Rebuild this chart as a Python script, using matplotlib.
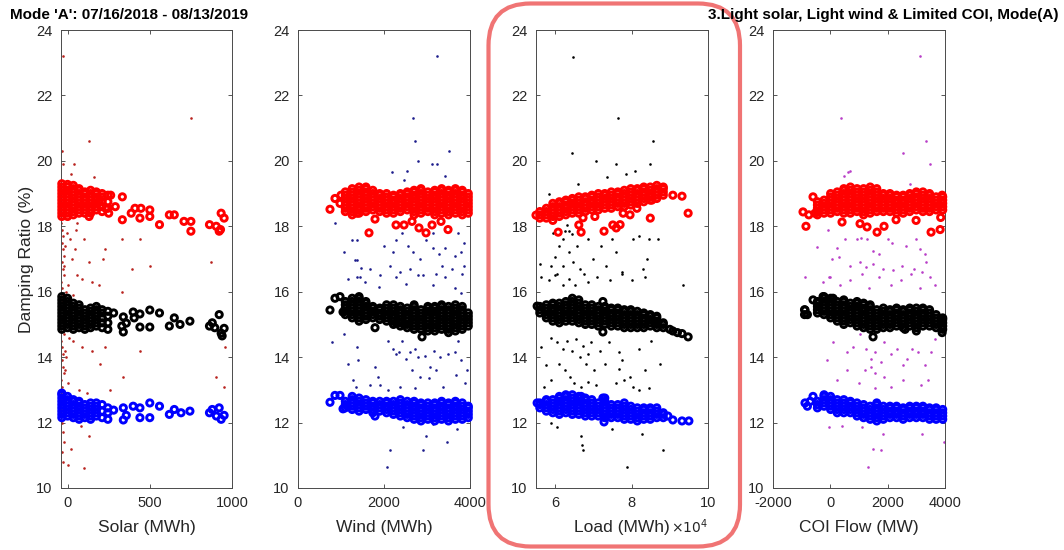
import matplotlib
matplotlib.use("Agg")
import matplotlib.pyplot as plt
from matplotlib.patches import FancyBboxPatch
from matplotlib.ticker import FuncFormatter

plt.rcParams['font.family'] = ['Liberation Sans', 'DejaVu Sans']
plt.rcParams['axes.unicode_minus'] = False

# ---------------- Data ----------------
title_left = "Mode 'A': 07/16/2018 - 08/13/2019"
title_right = "3.Light solar, Light wind & Limited COI, Mode(A)"
xlabels = ["Solar (MWh)", "Wind (MWh)", "Load (MWh)", "COI Flow (MW)"]
ylabel = "Damping Ratio (%)"
yticks = [10, 12, 14, 16, 18, 20, 22, 24]

# ---- Panel 1: Solar ----
solar_red_cols = [
    (-35, [18.3, 18.4, 18.5, 18.6, 18.7, 18.8, 18.9, 19.0, 19.1, 19.2, 19.3]),
    (0, [18.3, 18.4, 18.5, 18.6, 18.7, 18.8, 18.9, 19.0, 19.1, 19.2, 19.28]),
    (35, [18.35, 18.45, 18.55, 18.65, 18.75, 18.85, 18.95, 19.05, 19.15, 19.25]),
    (70, [18.4, 18.5, 18.6, 18.7, 18.8, 18.9, 19.0, 19.1, 19.15]),
    (105, [18.4, 18.5, 18.6, 18.7, 18.8, 18.9, 19.0, 19.05]),
    (140, [18.4, 18.5, 18.6, 18.7, 18.8, 18.9, 19.0, 19.1]),
    (175, [18.5, 18.6, 18.7, 18.8, 18.9, 19.0, 19.05]),
    (210, [18.45, 18.6, 18.75, 18.9, 19.0]),
    (245, [18.55, 18.75, 18.95])]
solar_red_extra = [(131, 18.3), (262, 18.95), (333, 18.2), (333, 18.9), (387, 18.4), (410, 18.55), (446, 18.55),
                   (440, 18.25), (500, 18.5), (500, 18.3), (559, 18.05), (619, 18.35), (649, 18.35), (708, 18.15),
                   (750, 18.15), (750, 17.85), (863, 18.05), (904, 18.0), (922, 17.85), (930, 17.9), (934, 18.4),
                   (952, 18.25), (190, 18.75), (232, 18.55), (250, 18.4), (290, 18.6)]
solar_blk_cols = [
    (-35, [14.85, 14.95, 15.05, 15.15, 15.25, 15.35, 15.45, 15.55, 15.65, 15.75, 15.85]),
    (0, [14.9, 15.0, 15.1, 15.2, 15.3, 15.4, 15.5, 15.6, 15.7, 15.8]),
    (35, [14.85, 14.95, 15.05, 15.15, 15.25, 15.35, 15.45, 15.55, 15.65]),
    (70, [14.9, 15.0, 15.1, 15.2, 15.3, 15.4, 15.5, 15.6]),
    (105, [14.85, 14.95, 15.05, 15.15, 15.25, 15.35, 15.45]),
    (140, [14.9, 15.0, 15.1, 15.2, 15.3, 15.4, 15.5]),
    (175, [14.95, 15.05, 15.15, 15.25, 15.35, 15.45, 15.55]),
    (210, [14.9, 15.05, 15.2, 15.35, 15.45]),
    (245, [14.85, 15.05, 15.25, 15.4])]
solar_blk_extra = [(280, 15.35), (339, 15.23), (339, 14.77), (357, 15.04), (399, 15.38), (405, 15.2), (440, 15.32),
                   (440, 14.92), (500, 15.44), (500, 14.92), (559, 15.35), (619, 14.95), (649, 15.2), (684, 15.0),
                   (744, 15.1), (863, 14.95), (880, 15.05), (922, 15.3), (934, 14.73), (952, 14.88), (940, 14.65),
                   (895, 14.9), (330, 14.95)]
solar_blu_cols = [
    (-35, [12.15, 12.25, 12.35, 12.45, 12.55, 12.65, 12.75, 12.85, 12.9]),
    (0, [12.2, 12.3, 12.4, 12.5, 12.6, 12.7, 12.8]),
    (35, [12.15, 12.25, 12.35, 12.45, 12.55, 12.65, 12.7]),
    (70, [12.1, 12.2, 12.3, 12.4, 12.5, 12.6, 12.65]),
    (105, [12.15, 12.25, 12.35, 12.45, 12.55]),
    (140, [12.1, 12.2, 12.3, 12.4, 12.5, 12.6]),
    (175, [12.2, 12.3, 12.4, 12.5, 12.6]),
    (210, [12.15, 12.35, 12.55]),
    (245, [12.1, 12.3, 12.45])]
solar_blu_extra = [(280, 12.38), (339, 12.45), (339, 12.08), (357, 12.22), (399, 12.5), (440, 12.45), (440, 12.15),
                   (500, 12.15), (500, 12.6), (559, 12.5), (619, 12.25), (649, 12.4), (690, 12.3), (744, 12.35),
                   (863, 12.3), (880, 12.4), (922, 12.45), (934, 12.1), (952, 12.22), (905, 12.2)]
solar_dots = [(-30, 23.2), (131, 20.6), (750, 21.3), (-35, 20.3), (-25, 19.9), (40, 19.9), (20, 19.6), (160, 19.5),
              (-30, 19.2), (-38, 18.1), (-32, 17.9), (-26, 17.7), (-35, 17.5), (-29, 17.3), (-22, 17.1), (-36, 16.9),
              (-30, 16.7), (-24, 16.5), (-37, 16.3), (-31, 16.1), (-25, 15.9), (-34, 15.7), (-28, 15.5), (-20, 15.3),
              (-36, 15.1), (-30, 14.9), (-24, 14.7), (-38, 14.5), (-32, 14.3), (-26, 14.1), (-35, 13.9), (-29, 13.7),
              (-22, 13.5), (-37, 13.3), (-31, 13.1), (-25, 12.9), (-34, 12.7), (-28, 12.4), (-36, 12.0), (-30, 11.7),
              (-24, 11.4), (-33, 11.1), (-27, 10.8), (-20, 16.8), (-18, 14.2), (-15, 13.6), (-17, 17.4), (-12, 15.0),
              (-14, 12.2), (-5, 17.8), (5, 16.2), (10, 14.6), (15, 17.6), (0, 13.2), (-10, 16.0), (-8, 14.0),
              (50, 17.9), (100, 17.6), (45, 17.3), (130, 16.9), (230, 17.3), (330, 17.6), (440, 17.6), (215, 17.0),
              (390, 16.7), (500, 16.8), (870, 16.9), (60, 16.5), (90, 16.4), (150, 16.3), (190, 16.2), (330, 16.0),
              (30, 14.5), (90, 14.3), (150, 14.2), (230, 14.3), (440, 14.2), (340, 13.4), (200, 13.8), (900, 13.4),
              (950, 13.1), (960, 14.3), (80, 11.9), (130, 11.6), (20, 11.2), (0, 10.7), (100, 10.6), (70, 13.0),
              (120, 12.9), (260, 13.0), (25, 17.0), (35, 15.9), (60, 18.1)]

# ---- Panel 2: Wind ----
wind_red_cols = [
    (1100, [18.45, 18.55, 18.65, 18.75, 18.85, 18.95, 19.05]),
    (1260, [18.35, 18.45, 18.55, 18.65, 18.75, 18.85, 18.95, 19.05, 19.15]),
    (1420, [18.4, 18.5, 18.6, 18.7, 18.8, 18.9, 19.0, 19.1, 19.2]),
    (1580, [18.45, 18.55, 18.65, 18.75, 18.85, 18.95, 19.05, 19.15, 19.2]),
    (1740, [18.5, 18.6, 18.7, 18.8, 18.9, 19.0, 19.1]),
    (1900, [18.45, 18.55, 18.65, 18.75, 18.85, 18.95, 19.0]),
    (2060, [18.4, 18.5, 18.6, 18.7, 18.8, 18.9, 19.0]),
    (2220, [18.4, 18.5, 18.6, 18.7, 18.8, 18.9, 18.95]),
    (2380, [18.45, 18.55, 18.65, 18.75, 18.85, 18.95, 19.0]),
    (2540, [18.5, 18.6, 18.7, 18.8, 18.9, 19.0, 19.05]),
    (2700, [18.35, 18.45, 18.55, 18.65, 18.75, 18.85, 18.95, 19.05, 19.1]),
    (2860, [18.4, 18.5, 18.6, 18.7, 18.8, 18.9, 19.0, 19.1, 19.15]),
    (3020, [18.45, 18.55, 18.65, 18.75, 18.85, 18.95, 19.05]),
    (3180, [18.35, 18.45, 18.55, 18.65, 18.75, 18.85, 18.95, 19.05, 19.1]),
    (3340, [18.4, 18.5, 18.6, 18.7, 18.8, 18.9, 19.0, 19.1, 19.15]),
    (3500, [18.35, 18.45, 18.55, 18.65, 18.75, 18.85, 18.95, 19.05, 19.1]),
    (3660, [18.4, 18.5, 18.6, 18.7, 18.8, 18.9, 19.0, 19.1, 19.15]),
    (3820, [18.35, 18.45, 18.55, 18.65, 18.75, 18.85, 18.95, 19.05, 19.1]),
    (3960, [18.4, 18.5, 18.6, 18.7, 18.8, 18.9, 19.0])]
wind_red_extra = [(744, 18.52), (860, 18.85), (977, 18.7), (1372, 18.4), (1651, 17.8), (1791, 18.22), (2280, 18.04),
                  (2466, 18.04), (2652, 18.15), (2814, 17.95), (2977, 17.8), (3117, 18.04), (3326, 18.15),
                  (3489, 17.9), (1000, 18.95)]
wind_blk_cols = [
    (1100, [15.3, 15.4, 15.5, 15.6, 15.7]),
    (1260, [15.2, 15.3, 15.4, 15.5, 15.6, 15.7, 15.8]),
    (1420, [15.1, 15.2, 15.3, 15.4, 15.5, 15.6, 15.7, 15.8, 15.85]),
    (1580, [15.15, 15.25, 15.35, 15.45, 15.55, 15.65, 15.7]),
    (1740, [15.2, 15.3, 15.4, 15.5, 15.55]),
    (1900, [15.15, 15.25, 15.35, 15.45, 15.5]),
    (2060, [15.1, 15.2, 15.3, 15.4, 15.5, 15.6]),
    (2220, [15.0, 15.1, 15.2, 15.3, 15.4, 15.5, 15.6]),
    (2380, [14.95, 15.05, 15.15, 15.25, 15.35, 15.45, 15.55]),
    (2540, [14.9, 15.0, 15.1, 15.2, 15.3, 15.4, 15.5]),
    (2700, [14.85, 14.95, 15.05, 15.15, 15.25, 15.35, 15.45, 15.55, 15.6]),
    (2860, [14.85, 14.95, 15.05, 15.15, 15.25, 15.35, 15.45]),
    (3020, [14.8, 14.9, 15.0, 15.1, 15.2, 15.3, 15.4, 15.5, 15.55]),
    (3180, [14.8, 14.9, 15.0, 15.1, 15.2, 15.3, 15.4, 15.5, 15.55]),
    (3340, [14.85, 14.95, 15.05, 15.15, 15.25, 15.35, 15.45, 15.55, 15.6]),
    (3500, [14.75, 14.85, 14.95, 15.05, 15.15, 15.25, 15.35, 15.45, 15.55]),
    (3660, [14.8, 14.9, 15.0, 15.1, 15.2, 15.3, 15.4, 15.5, 15.6]),
    (3820, [14.85, 14.95, 15.05, 15.15, 15.25, 15.35, 15.45, 15.55]),
    (3960, [14.95, 15.05, 15.15, 15.25, 15.35])]
wind_blk_extra = [(744, 15.44), (860, 15.8), (977, 15.85), (1047, 15.38), (1791, 14.9), (2884, 14.62),
                  (2280, 15.05), (2466, 15.0)]
wind_blu_cols = [
    (1100, [12.45, 12.55, 12.65]),
    (1260, [12.4, 12.5, 12.6, 12.7, 12.8]),
    (1420, [12.35, 12.45, 12.55, 12.65, 12.75]),
    (1580, [12.4, 12.5, 12.6, 12.7]),
    (1740, [12.3, 12.4, 12.5, 12.6, 12.65]),
    (1900, [12.35, 12.45, 12.55, 12.65]),
    (2060, [12.3, 12.4, 12.5, 12.6, 12.65]),
    (2220, [12.25, 12.35, 12.45, 12.55, 12.65]),
    (2380, [12.2, 12.3, 12.4, 12.5, 12.6, 12.7]),
    (2540, [12.15, 12.25, 12.35, 12.45, 12.55, 12.65]),
    (2700, [12.1, 12.2, 12.3, 12.4, 12.5, 12.6, 12.65]),
    (2860, [12.05, 12.15, 12.25, 12.35, 12.45, 12.55, 12.6]),
    (3020, [12.1, 12.2, 12.3, 12.4, 12.5, 12.6]),
    (3180, [12.05, 12.15, 12.25, 12.35, 12.45, 12.55, 12.6]),
    (3340, [12.1, 12.2, 12.3, 12.4, 12.5, 12.6, 12.65]),
    (3500, [12.05, 12.15, 12.25, 12.35, 12.45, 12.55, 12.6]),
    (3660, [12.1, 12.2, 12.3, 12.4, 12.5, 12.6, 12.65]),
    (3820, [12.1, 12.2, 12.3, 12.4, 12.5, 12.6]),
    (3960, [12.15, 12.25, 12.35, 12.45, 12.5])]
wind_blu_extra = [(744, 12.62), (860, 12.83), (977, 12.83), (1047, 12.42), (1791, 12.2)]
wind_dots = [(3233, 23.2), (2675, 21.3), (2721, 20.6), (2791, 20.0), (3512, 20.3), (2187, 19.65), (2535, 19.7),
             (3117, 19.9), (3233, 19.9), (3420, 19.55), (2466, 19.4), (860, 18.1),
             (1256, 17.58), (1372, 17.58), (1326, 16.97), (1372, 16.97), (1465, 16.73), (2280, 17.58), (2210, 17.2),
             (2560, 17.4), (2675, 17.2), (2830, 17.0), (2977, 17.58), (3140, 17.35), (3280, 17.15), (3420, 17.35),
             (3650, 17.1), (3790, 17.2), (3860, 16.8), (3815, 16.55), (3590, 16.7), (3350, 16.8), (3210, 16.55),
             (2910, 16.5), (2600, 16.7), (2370, 16.6), (2140, 16.8), (1910, 16.5), (1680, 16.7), (1440, 16.45),
             (1163, 16.4), (1070, 17.2), (1990, 17.4), (2420, 17.8), (3140, 17.8), (3720, 17.8), (3860, 17.5),
             (1372, 16.45), (1560, 16.3), (1885, 16.15), (2280, 16.45), (2500, 16.25), (2790, 16.5), (3140, 16.2),
             (3420, 16.45), (3650, 16.1), (3790, 15.95),
             (790, 14.45), (1070, 14.7), (1163, 13.8), (1372, 14.3), (1395, 13.9), (1280, 13.3), (1350, 13.1),
             (1790, 13.7), (1860, 13.4), (1910, 13.15), (2093, 14.5), (2210, 14.25), (2280, 14.1), (2350, 14.15),
             (2420, 14.5), (2500, 13.95), (2610, 14.15), (2650, 13.6), (2720, 14.25), (2790, 14.0), (2840, 13.4),
             (2960, 14.05), (3040, 13.35), (3070, 13.7), (3160, 14.2), (3210, 13.6), (3300, 14.0), (3380, 13.1),
             (3490, 14.1), (3650, 14.15), (3720, 14.5), (3800, 13.9), (3880, 13.2), (3920, 13.6), (3680, 13.45),
             (2720, 13.05), (2380, 13.1), (2090, 13.0), (1680, 13.15),
             (2442, 11.86), (2140, 11.15), (2911, 11.15), (2070, 10.65), (3467, 11.4), (2980, 11.6), (3700, 11.8),
             (3150, 11.95)]

# ---- Panel 3: Load ----
load_red_cols = [
    (5.6e4, [18.25, 18.35, 18.45]),
    (5.77e4, [18.25, 18.35, 18.45, 18.55]),
    (5.94e4, [18.3, 18.4, 18.5, 18.6, 18.7]),
    (6.11e4, [18.3, 18.4, 18.5, 18.6, 18.7, 18.75]),
    (6.28e4, [18.35, 18.45, 18.55, 18.65, 18.75, 18.8]),
    (6.45e4, [18.4, 18.5, 18.6, 18.7, 18.8, 18.85]),
    (6.62e4, [18.4, 18.5, 18.6, 18.7, 18.8, 18.9]),
    (6.79e4, [18.45, 18.55, 18.65, 18.75, 18.85, 18.9]),
    (6.96e4, [18.5, 18.6, 18.7, 18.8, 18.9, 18.95]),
    (7.13e4, [18.5, 18.6, 18.7, 18.8, 18.9, 19.0]),
    (7.30e4, [18.55, 18.65, 18.75, 18.85, 18.95, 19.0]),
    (7.47e4, [18.55, 18.65, 18.75, 18.85, 18.95, 19.05]),
    (7.64e4, [18.6, 18.7, 18.8, 18.9, 19.0, 19.05]),
    (7.81e4, [18.6, 18.7, 18.8, 18.9, 19.0, 19.1]),
    (7.98e4, [18.65, 18.75, 18.85, 18.95, 19.05, 19.15]),
    (8.15e4, [18.7, 18.8, 18.9, 19.0, 19.1, 19.15]),
    (8.32e4, [18.75, 18.85, 18.95, 19.05, 19.15, 19.2]),
    (8.49e4, [18.8, 18.9, 19.0, 19.1, 19.2]),
    (8.66e4, [18.85, 18.95, 19.05, 19.15, 19.25]),
    (8.83e4, [18.95, 19.05, 19.15, 19.2])]
load_red_extra = [(5.5e4, 18.34), (5.94e4, 18.18), (6.08e4, 17.82), (6.62e4, 18.04), (6.68e4, 17.82), (6.73e4, 18.26),
                  (7.04e4, 18.3), (7.28e4, 17.85), (7.51e4, 18.04), (7.6e4, 17.95), (7.7e4, 18.05), (7.78e4, 18.4),
                  (7.96e4, 18.35), (8.14e4, 18.55), (8.49e4, 18.25), (8.53e4, 18.8), (9.08e4, 18.95),
                  (9.32e4, 18.92), (9.48e4, 18.4)]
load_blk_cols = [
    (5.6e4, [15.35, 15.45, 15.55]),
    (5.77e4, [15.2, 15.3, 15.4, 15.5, 15.6]),
    (5.94e4, [15.1, 15.2, 15.3, 15.4, 15.5, 15.6, 15.65]),
    (6.11e4, [15.05, 15.15, 15.25, 15.35, 15.45, 15.55, 15.65]),
    (6.28e4, [15.1, 15.2, 15.3, 15.4, 15.5, 15.6, 15.7]),
    (6.45e4, [15.1, 15.2, 15.3, 15.4, 15.5, 15.6, 15.7, 15.8]),
    (6.62e4, [15.05, 15.15, 15.25, 15.35, 15.45, 15.55, 15.65, 15.75]),
    (6.79e4, [15.0, 15.1, 15.2, 15.3, 15.4, 15.5, 15.6]),
    (6.96e4, [15.0, 15.1, 15.2, 15.3, 15.4, 15.5, 15.6]),
    (7.13e4, [14.95, 15.05, 15.15, 15.25, 15.35, 15.45, 15.55]),
    (7.30e4, [15.0, 15.1, 15.2, 15.3, 15.4, 15.5, 15.55]),
    (7.47e4, [14.95, 15.05, 15.15, 15.25, 15.35, 15.45, 15.5]),
    (7.64e4, [14.95, 15.05, 15.15, 15.25, 15.35, 15.45, 15.5]),
    (7.81e4, [14.9, 15.0, 15.1, 15.2, 15.3, 15.4, 15.45]),
    (7.98e4, [14.9, 15.0, 15.1, 15.2, 15.3, 15.4, 15.45]),
    (8.15e4, [14.9, 15.0, 15.1, 15.2, 15.3, 15.4]),
    (8.32e4, [14.9, 15.0, 15.1, 15.2, 15.3, 15.35]),
    (8.49e4, [14.95, 15.05, 15.15, 15.25, 15.3]),
    (8.66e4, [14.9, 15.0, 15.1, 15.2, 15.25]),
    (8.83e4, [14.9, 15.0, 15.05])]
load_blk_extra = [(5.53e4, 15.56), (7.25e4, 14.77), (7.25e4, 15.7), (9.0e4, 14.85), (9.08e4, 14.8), (9.2e4, 14.75),
                  (9.32e4, 14.72), (9.48e4, 14.62), (8.6e4, 15.05)]
load_blu_cols = [
    (5.6e4, [12.45, 12.55, 12.6]),
    (5.77e4, [12.35, 12.45, 12.55, 12.65, 12.7]),
    (5.94e4, [12.3, 12.4, 12.5, 12.6, 12.7]),
    (6.11e4, [12.25, 12.35, 12.45, 12.55, 12.65, 12.75, 12.8]),
    (6.28e4, [12.3, 12.4, 12.5, 12.6, 12.7, 12.8, 12.85]),
    (6.45e4, [12.25, 12.35, 12.45, 12.55, 12.65, 12.75, 12.85]),
    (6.62e4, [12.25, 12.35, 12.45, 12.55, 12.65, 12.75, 12.8]),
    (6.79e4, [12.2, 12.3, 12.4, 12.5, 12.6, 12.7, 12.75]),
    (6.96e4, [12.2, 12.3, 12.4, 12.5, 12.6, 12.7]),
    (7.13e4, [12.2, 12.3, 12.4, 12.5, 12.6]),
    (7.30e4, [12.15, 12.25, 12.35, 12.45, 12.55, 12.65, 12.75]),
    (7.47e4, [12.15, 12.25, 12.35, 12.45, 12.55]),
    (7.64e4, [12.15, 12.25, 12.35, 12.45, 12.55]),
    (7.81e4, [12.1, 12.2, 12.3, 12.4, 12.5, 12.6]),
    (7.98e4, [12.1, 12.2, 12.3, 12.4, 12.5]),
    (8.15e4, [12.05, 12.15, 12.25, 12.35, 12.45]),
    (8.32e4, [12.1, 12.2, 12.3, 12.4, 12.45]),
    (8.49e4, [12.1, 12.2, 12.3, 12.4, 12.45]),
    (8.66e4, [12.15, 12.25, 12.35, 12.45]),
    (8.83e4, [12.15, 12.25, 12.3])]
load_blu_extra = [(5.53e4, 12.6), (9.08e4, 12.08), (9.32e4, 12.05), (9.5e4, 12.05), (8.95e4, 12.2), (7.28e4, 12.02),
                  (7.25e4, 12.75), (6.68e4, 12.8)]
load_dots = [(6.47e4, 23.18), (7.64e4, 21.3), (8.56e4, 20.6), (6.43e4, 20.25), (7.07e4, 20.0), (7.6e4, 19.9),
             (8.47e4, 19.9), (6.6e4, 19.3), (5.84e4, 18.98), (7.36e4, 19.5), (8.1e4, 19.7), (7.85e4, 19.6),
             (6.31e4, 18.05), (6.26e4, 17.85), (6.36e4, 17.85), (6.45e4, 17.75), (6.2e4, 17.6), (5.95e4, 17.8),
             (6.1e4, 17.4), (5.99e4, 17.05), (6.2e4, 16.8), (6.36e4, 17.2), (6.47e4, 16.9), (5.89e4, 16.8),
             (6.0e4, 16.5), (6.57e4, 17.4), (6.65e4, 16.7), (6.86e4, 17.6), (7.0e4, 17.0), (7.2e4, 17.4),
             (7.33e4, 16.8), (7.5e4, 17.6), (7.6e4, 17.2), (7.76e4, 16.6), (8.05e4, 17.6), (8.2e4, 17.7),
             (8.45e4, 17.6), (8.7e4, 17.6), (8.4e4, 17.0), (8.3e4, 16.7), (5.6e4, 16.85),
             (5.63e4, 16.45), (5.84e4, 16.35), (6.05e4, 16.55), (6.2e4, 16.2), (6.36e4, 16.4), (6.53e4, 16.2),
             (6.75e4, 16.55), (6.85e4, 16.3), (7.1e4, 16.45), (7.43e4, 16.35), (7.76e4, 16.55), (8.0e4, 16.35),
             (8.35e4, 16.45), (9.35e4, 16.2),
             (5.9e4, 14.6), (6.05e4, 14.45), (6.2e4, 14.25), (6.3e4, 14.5), (6.43e4, 14.2), (6.55e4, 14.55),
             (6.64e4, 14.0), (6.72e4, 14.35), (6.8e4, 13.8), (6.86e4, 14.1), (6.95e4, 14.45), (7.03e4, 13.6),
             (7.17e4, 14.2), (6.1e4, 13.8), (6.25e4, 13.6), (6.38e4, 13.4), (6.5e4, 13.2), (5.9e4, 13.3),
             (5.72e4, 13.1), (6.68e4, 13.1), (6.86e4, 13.25), (7.08e4, 13.15), (7.68e4, 14.15), (7.76e4, 13.9),
             (7.66e4, 13.65), (7.95e4, 13.4), (8.03e4, 13.1), (7.8e4, 13.3), (8.2e4, 13.0), (8.45e4, 13.05),
             (7.6e4, 13.2), (8.35e4, 13.6), (8.2e4, 14.25), (8.5e4, 14.5), (8.75e4, 13.8), (7.3e4, 13.8),
             (7.4e4, 14.45), (5.63e4, 14.3), (5.75e4, 13.75),
             (6.05e4, 11.86), (6.69e4, 11.6), (6.7e4, 11.3), (6.72e4, 11.15), (7.88e4, 10.65), (8.82e4, 11.15),
             (8.27e4, 11.65), (7.5e4, 11.8), (5.9e4, 12.0)]

# ---- Panel 4: COI flow ----
coi_red_cols = [
    (-450, [18.35, 18.45, 18.55, 18.65, 18.75]),
    (-220, [18.4, 18.5, 18.6, 18.7, 18.8]),
    (10, [18.4, 18.5, 18.6, 18.7, 18.8, 18.9, 19.0]),
    (240, [18.45, 18.55, 18.65, 18.75, 18.85, 18.95, 19.05]),
    (470, [18.4, 18.5, 18.6, 18.7, 18.8, 18.9, 19.0, 19.1, 19.15]),
    (700, [18.4, 18.5, 18.6, 18.7, 18.8, 18.9, 19.0, 19.1, 19.2]),
    (930, [18.45, 18.55, 18.65, 18.75, 18.85, 18.95, 19.05, 19.15]),
    (1160, [18.35, 18.45, 18.55, 18.65, 18.75, 18.85, 18.95, 19.05, 19.15]),
    (1390, [18.4, 18.5, 18.6, 18.7, 18.8, 18.9, 19.0, 19.1, 19.2]),
    (1620, [18.45, 18.55, 18.65, 18.75, 18.85, 18.95, 19.05, 19.15]),
    (1850, [18.45, 18.55, 18.65, 18.75, 18.85, 18.95, 19.0]),
    (2080, [18.45, 18.55, 18.65, 18.75, 18.85, 18.95, 19.0]),
    (2310, [18.4, 18.5, 18.6, 18.7, 18.8, 18.9, 18.95]),
    (2540, [18.4, 18.5, 18.6, 18.7, 18.8, 18.9, 18.95]),
    (2770, [18.45, 18.55, 18.65, 18.75, 18.85, 18.95, 19.0]),
    (3000, [18.5, 18.6, 18.7, 18.8, 18.9, 19.0, 19.05]),
    (3230, [18.45, 18.55, 18.65, 18.75, 18.85, 18.95, 19.05]),
    (3460, [18.45, 18.55, 18.65, 18.75, 18.85, 18.95, 19.0]),
    (3690, [18.5, 18.6, 18.7, 18.8, 18.9]),
    (3920, [18.5, 18.6, 18.7, 18.8, 18.9])]
coi_red_extra = [(-953, 18.44), (-850, 18.0), (-604, 18.9), (-535, 18.4), (408, 18.13), (1036, 18.08), (1281, 17.98),
                 (1630, 17.82), (1874, 18.0), (2293, 18.2), (2991, 18.18), (3514, 17.82), (3830, 17.9),
                 (3850, 18.27), (3900, 18.95), (-750, 18.35)]
coi_blk_cols = [
    (-900, [15.3, 15.45]),
    (-450, [15.35, 15.45, 15.55, 15.65, 15.7]),
    (-220, [15.3, 15.4, 15.5, 15.6, 15.7, 15.8, 15.85]),
    (10, [15.2, 15.3, 15.4, 15.5, 15.6, 15.7, 15.8]),
    (240, [15.1, 15.2, 15.3, 15.4, 15.5, 15.6, 15.7]),
    (470, [15.0, 15.1, 15.2, 15.3, 15.4, 15.5, 15.6, 15.7, 15.75]),
    (700, [15.05, 15.15, 15.25, 15.35, 15.45, 15.55, 15.65]),
    (930, [14.95, 15.05, 15.15, 15.25, 15.35, 15.45, 15.55, 15.65, 15.7]),
    (1160, [14.9, 15.0, 15.1, 15.2, 15.3, 15.4, 15.5, 15.6, 15.65]),
    (1390, [14.85, 14.95, 15.05, 15.15, 15.25, 15.35, 15.45, 15.55, 15.6]),
    (1620, [14.85, 14.95, 15.05, 15.15, 15.25, 15.35, 15.45]),
    (1850, [14.9, 15.0, 15.1, 15.2, 15.3, 15.4, 15.5]),
    (2080, [14.9, 15.0, 15.1, 15.2, 15.3, 15.4, 15.45]),
    (2310, [14.95, 15.05, 15.15, 15.25, 15.35, 15.45, 15.5]),
    (2540, [14.9, 15.0, 15.1, 15.2, 15.3, 15.4, 15.45]),
    (2770, [14.95, 15.05, 15.15, 15.25, 15.35, 15.45, 15.5]),
    (3000, [14.9, 15.0, 15.1, 15.2, 15.3, 15.4, 15.5]),
    (3230, [14.95, 15.05, 15.15, 15.25, 15.35, 15.45, 15.5]),
    (3460, [14.95, 15.05, 15.15, 15.25, 15.35, 15.45]),
    (3690, [14.9, 15.0, 15.1, 15.2, 15.3]),
    (3920, [14.85, 14.95, 15.05, 15.15, 15.2])]
coi_blk_extra = [(-883, 15.44), (-800, 15.3), (-604, 15.75), (-255, 15.85), (94, 15.8), (1490, 14.62), (2607, 14.85),
                 (3001, 14.8), (3900, 14.75), (3900, 15.1)]
coi_blu_cols = [
    (-450, [12.45, 12.55, 12.65]),
    (-220, [12.5, 12.6, 12.7, 12.8, 12.85]),
    (10, [12.4, 12.5, 12.6, 12.7, 12.8]),
    (240, [12.3, 12.4, 12.5, 12.6, 12.7]),
    (470, [12.3, 12.4, 12.5, 12.6, 12.7]),
    (700, [12.3, 12.4, 12.5, 12.6, 12.65]),
    (930, [12.2, 12.3, 12.4, 12.5, 12.6]),
    (1160, [12.15, 12.25, 12.35, 12.45, 12.55]),
    (1390, [12.1, 12.2, 12.3, 12.4, 12.5]),
    (1620, [12.05, 12.15, 12.25, 12.35, 12.45, 12.55, 12.6]),
    (1850, [12.1, 12.2, 12.3, 12.4, 12.5]),
    (2080, [12.15, 12.25, 12.35, 12.45, 12.5]),
    (2310, [12.15, 12.25, 12.35, 12.45, 12.5]),
    (2540, [12.1, 12.2, 12.3, 12.4, 12.45]),
    (2770, [12.15, 12.25, 12.35, 12.45, 12.5]),
    (3000, [12.15, 12.25, 12.35, 12.45, 12.5]),
    (3230, [12.15, 12.25, 12.35, 12.45, 12.5]),
    (3460, [12.1, 12.2, 12.3, 12.4, 12.45]),
    (3690, [12.1, 12.2, 12.3, 12.4, 12.45]),
    (3920, [12.1, 12.2, 12.3, 12.4])]
coi_blu_extra = [(-883, 12.6), (-800, 12.5), (-604, 12.8), (-700, 12.65)]
coi_dots = [(3130, 23.2), (373, 21.3), (2537, 20.25), (3340, 20.6), (3480, 19.9), (688, 19.7), (478, 19.55),
            (2782, 19.3), (620, 19.65),
            (-465, 17.38), (-80, 17.9), (234, 17.35), (513, 17.6), (932, 17.6), (1072, 17.65), (1281, 17.6),
            (1490, 17.25), (1700, 17.15), (2014, 17.6), (2153, 17.5), (2640, 17.4), (2990, 17.6), (3130, 17.3),
            (3300, 17.15), (67, 17.0), (300, 17.05), (680, 16.8), (1030, 16.9), (1260, 16.75), (1490, 16.85),
            (1840, 16.7), (2200, 16.65), (2500, 16.8), (2920, 16.7), (3200, 16.6), (3340, 16.9), (-890, 16.45),
            (0, 16.45),
            (-240, 16.3), (-50, 16.45), (340, 16.2), (685, 16.35), (1120, 16.55), (1350, 16.1), (1700, 16.45),
            (2130, 16.2), (2480, 16.35), (2800, 16.55), (3130, 16.1), (3480, 16.45), (3650, 16.2),
            (1030, 14.7), (800, 14.3), (570, 14.15), (1260, 14.25), (1420, 13.95), (1560, 14.15), (1770, 13.85),
            (1860, 14.45), (2100, 14.1), (2320, 14.25), (2520, 13.75), (2680, 13.95), (2840, 14.25), (3070, 14.15),
            (3290, 13.75), (3400, 13.3), (3170, 13.15), (2530, 13.3), (1860, 13.4), (1560, 13.5), (1420, 13.7),
            (1210, 13.6), (1000, 13.2), (570, 13.6), (230, 13.3), (110, 14.45), (-110, 13.9), (1560, 13.05),
            (2100, 13.1), (3520, 14.15), (3660, 14.55),
            (-46, 11.86), (1490, 11.2), (1770, 11.15), (1316, 10.65), (1840, 11.65), (3200, 11.65), (3950, 11.4),
            (1100, 11.85), (400, 11.9)]

panels = [
    dict(cols=[solar_red_cols, solar_blk_cols, solar_blu_cols],
         extra=[solar_red_extra, solar_blk_extra, solar_blu_extra],
         dots=solar_dots, dot_color='#b8231e', xlim=(-40, 1000), xticks=[0, 500, 1000]),
    dict(cols=[wind_red_cols, wind_blk_cols, wind_blu_cols],
         extra=[wind_red_extra, wind_blk_extra, wind_blu_extra],
         dots=wind_dots, dot_color='#1c1c8c', xlim=(0, 4000), xticks=[0, 2000, 4000]),
    dict(cols=[load_red_cols, load_blk_cols, load_blu_cols],
         extra=[load_red_extra, load_blk_extra, load_blu_extra],
         dots=load_dots, dot_color='#000000', xlim=(5.5e4, 1.0e5), xticks=[6e4, 8e4, 1e5]),
    dict(cols=[coi_red_cols, coi_blk_cols, coi_blu_cols],
         extra=[coi_red_extra, coi_blk_extra, coi_blu_extra],
         dots=coi_dots, dot_color='#b83ec8', xlim=(-2000, 4000), xticks=[-2000, 0, 2000, 4000]),
]
band_colors = ['#ff0000', '#000000', '#0000ff']

# ---------------- Figure ----------------
W, H = 1064, 550
fig = plt.figure(figsize=(W / 100, H / 100), dpi=100)
lefts_px = [61, 298, 536, 773]
widths_px = [171, 172, 172, 172]
top_px, bot_px = 30, 488


def flat(cols, extra):
    xs, ys = [], []
    for x, yl in cols:
        for y in yl:
            xs.append(x)
            ys.append(y)
    for x, y in extra:
        xs.append(x)
        ys.append(y)
    return xs, ys


axes = []
for i, p in enumerate(panels):
    ax = fig.add_axes([lefts_px[i] / W, (H - bot_px) / H, widths_px[i] / W, (bot_px - top_px) / H])
    axes.append(ax)
    dx = [d[0] for d in p['dots']]
    dy = [d[1] for d in p['dots']]
    ax.scatter(dx, dy, s=3.5, color=p['dot_color'], marker='o', linewidths=0, zorder=2)
    for cols, extra, c in zip(p['cols'], p['extra'], band_colors):
        xs, ys = flat(cols, extra)
        ax.scatter(xs, ys, s=20, facecolors='none', edgecolors=c, linewidths=2.1, zorder=3, clip_on=False)
    ax.set_xlim(*p['xlim'])
    ax.set_ylim(10, 24)
    ax.set_yticks(yticks)
    ax.set_xticks(p['xticks'])
    ax.tick_params(direction='in', top=True, right=True, length=3, width=0.6, colors='#3a3a3a',
                   labelsize=10.5, labelcolor='#262626', pad=6)
    for s in ax.spines.values():
        s.set_color('#4a4a4a')
        s.set_linewidth(0.7)
    ax.set_xlabel(xlabels[i], fontsize=12.5, color='#262626', labelpad=7)

axes[2].xaxis.set_major_formatter(FuncFormatter(lambda v, pos: f"{v / 1e4:g}"))
fig.text(671 / W, (H - 527) / H, r'$\times10^{4}$', fontsize=10, color='#262626', ha='left', va='center')
axes[0].set_ylabel(ylabel, fontsize=12.5, color='#262626', labelpad=2)

fig.text(10 / W, (H - 15) / H, title_left, fontsize=11, fontweight='bold', ha='left', va='center')
fig.text(1058 / W, (H - 15) / H, title_right, fontsize=11, fontweight='bold', ha='right', va='center')

box = FancyBboxPatch((4.885, 0.035), 2.515, 5.43, boxstyle="round,pad=0,rounding_size=0.42",
                     transform=fig.dpi_scale_trans, fill=False, edgecolor='#f07474', linewidth=3.0, zorder=0)
fig.add_artist(box)

fig.savefig('out.png', dpi=100, facecolor='white')
